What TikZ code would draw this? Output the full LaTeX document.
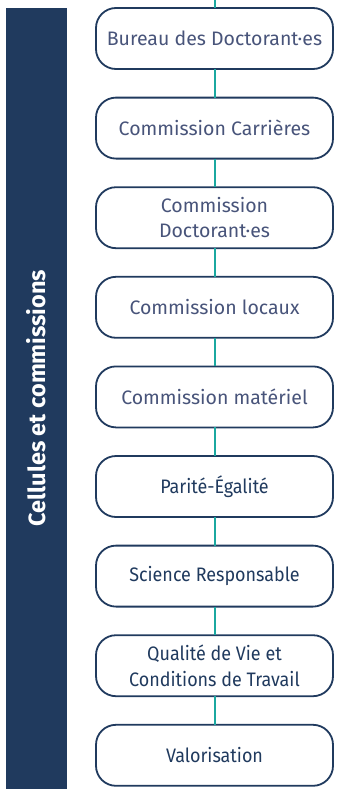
\documentclass[tikz,border=0pt]{standalone}
\usepackage{fontspec}
\setmainfont{Fira Sans}
\newfontfamily\serre[FakeStretch=0.92]{Fira Sans}
\usetikzlibrary{positioning}
\definecolor{marine}{RGB}{32,58,94}
\definecolor{marineclair}{RGB}{72,84,122}
\definecolor{turquoise}{RGB}{27,168,160}

\begin{document}
\begin{tikzpicture}[x=1pt, y=-1pt,
  cellule/.style={draw=marine, line width=1.8pt, fill=white, rounded corners=20pt,
    minimum width=237pt, minimum height=61pt, inner sep=0pt, outer sep=0pt,
    align=center},
  pale/.style={cellule, text=marineclair, font=\fontsize{19.5}{25}\selectfont},
  fonce/.style={cellule, text=marine, font=\serre\fontsize{19.5}{26}\selectfont},
  lien/.style={draw=turquoise, line width=2pt}]

  \newcommand\X{214.5}
  \newcommand\Y{89.6}

  \useasboundingbox (0,0) rectangle (353,790);

  % bandeau vertical
  \fill[marine] (6,8) rectangle (67,789);
  \node[rotate=90, text=white, font=\bfseries\fontsize{23.5}{28}\selectfont] (titre) at (36.5,398) {Cellules et commissions};

  \coordinate (haut) at (\X,0);

  \node[pale] (bureau) at (\X, 38.5+0*\Y) {Bureau des Doctorant·es};
  \node[pale] (carrieres) at (\X, 38.5+1*\Y) {Commission Carrières};
  \node[pale] (doctorants) at (\X, 38.5+2*\Y) {Commission\\Doctorant·es};
  \node[pale] (locaux) at (\X, 38.5+3*\Y) {Commission locaux};
  \node[pale] (materiel) at (\X, 38.5+4*\Y) {Commission matériel};
  \node[fonce] (parite) at (\X, 38.5+5*\Y) {Parité-Égalité};
  \node[fonce] (science) at (\X, 38.5+6*\Y) {Science Responsable};
  \node[fonce] (qvt) at (\X, 38.5+7*\Y) {Qualité de Vie et\\Conditions de Travail};
  \node[fonce] (valo) at (\X, 38.5+8*\Y) {Valorisation};

  \draw[lien] (haut) -- (bureau);
  \draw[lien] (bureau) -- (carrieres);
  \draw[lien] (carrieres) -- (doctorants);
  \draw[lien] (doctorants) -- (locaux);
  \draw[lien] (locaux) -- (materiel);
  \draw[lien] (materiel) -- (parite);
  \draw[lien] (parite) -- (science);
  \draw[lien] (science) -- (qvt);
  \draw[lien] (qvt) -- (valo);
\end{tikzpicture}
\end{document}
